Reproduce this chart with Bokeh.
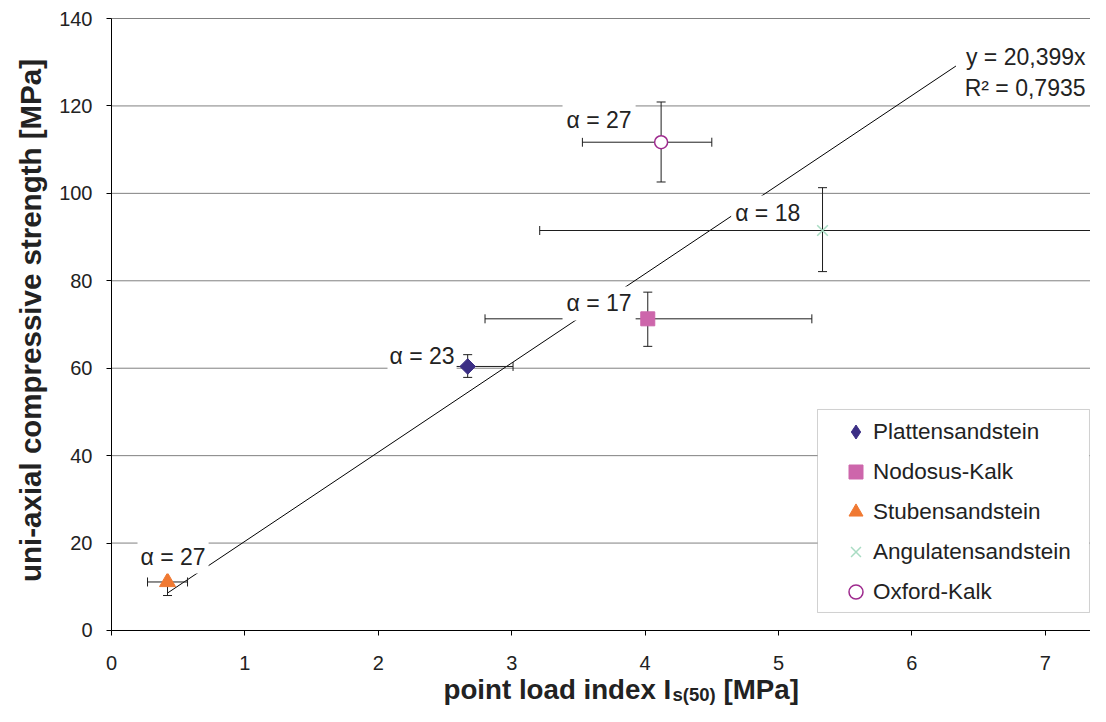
import math
from bokeh.plotting import figure
from bokeh.models import Range1d, FixedTicker, Label, Legend, LegendItem, BoxAnnotation
from bokeh.embed import file_html
from bokeh.resources import INLINE

# ---------------- data ----------------
names = ["Plattensandstein", "Nodosus-Kalk", "Stubensandstein", "Angulatensandstein", "Oxford-Kalk"]
x_vals = [2.67, 4.02, 0.42, 5.33, 4.12]
y_vals = [60.4, 71.3, 11.1, 91.5, 111.7]
x_lo = [2.33, 2.80, 0.27, 3.21, 3.53]
x_hi = [3.01, 5.25, 0.57, 7.46, 4.50]
y_lo = [57.9, 65.0, 8.0, 82.1, 102.6]
y_hi = [63.1, 77.4, 14.5, 101.3, 120.9]
alpha_texts = ["α = 23", "α = 17", "α = 27", "α = 18", "α = 27"]
trend_slope = 20.399
trend_x = [0.42, 6.33]
eq_text = "y = 20,399x"
r2_text = "R² = 0,7935"
x_ticks = [0, 1, 2, 3, 4, 5, 6, 7]
y_ticks = [0, 20, 40, 60, 80, 100, 120, 140]

# ---------------- styles / positions ----------------
colors = ["#3B2E85", "#CD66AB", "#F07932", "#A9DCC3", "#9E2A8E"]
alpha_pos = [(2.069, 62.69), (3.381, 74.81), (0.195, 16.70), (4.645, 95.62), (3.381, 116.68)]
alpha_pad = [2, 4, 3, 4, 4]
FONT = "Liberation Sans"
X_START, X_END = -0.8321, 7.3388
Y_START, Y_END = -17.386, 144.118

# the frame fills the whole canvas; both axes sit at 0
p = figure(width=1090, height=706, output_backend="svg", toolbar_location=None,
           x_range=Range1d(X_START, X_END), y_range=Range1d(Y_START, Y_END),
           min_border_left=0, min_border_right=0, min_border_top=0, min_border_bottom=0)
p.outline_line_color = None
p.background_fill_color = "white"
p.xgrid.visible = False
p.ygrid.visible = False

for ax in (p.xaxis, p.yaxis):
    ax.axis_line_color = "black"
    ax.axis_line_width = 1
    ax.major_tick_line_color = "black"
    ax.major_tick_in = 0
    ax.major_tick_out = 5
    ax.minor_tick_line_color = None
    ax.major_label_text_font = FONT
    ax.major_label_text_font_size = "20px"
    ax.major_label_text_color = "#222222"
p.xaxis.ticker = FixedTicker(ticks=x_ticks)
p.yaxis.ticker = FixedTicker(ticks=y_ticks)
p.xaxis.fixed_location = 0
p.yaxis.fixed_location = 0
p.xaxis.bounds = (0, X_END)
p.yaxis.bounds = (0, 140)
p.xaxis.major_label_standoff = 21
p.yaxis.major_label_standoff = 14

# horizontal grid lines at the y ticks
p.segment(x0=[0] * len(y_ticks), y0=y_ticks, x1=[X_END] * len(y_ticks), y1=y_ticks,
          line_color="#808080", line_width=1, level="underlay")

# trend line
p.line(x=trend_x, y=[trend_slope * v for v in trend_x], line_color="black", line_width=1)

# error bars
err_color = "#1e1e1e"
p.segment(x0=x_lo, y0=y_vals, x1=x_hi, y1=y_vals, line_color=err_color, line_width=1)
p.segment(x0=x_vals, y0=y_lo, x1=x_vals, y1=y_hi, line_color=err_color, line_width=1)
p.scatter(x=x_vals + x_vals, y=y_lo + y_hi, marker="dash", size=9, line_color=err_color, line_width=1)
p.scatter(x=x_lo + x_hi, y=y_vals + y_vals, marker="dash", size=9, angle=math.pi / 2,
          line_color=err_color, line_width=1)

# markers
r0 = p.scatter(x=[x_vals[0]], y=[y_vals[0]], marker="square", angle=math.pi / 4, size=11,
               fill_color=colors[0], line_color=colors[0])
r1 = p.scatter(x=[x_vals[1]], y=[y_vals[1]], marker="square", size=14,
               fill_color=colors[1], line_color=colors[1])
r2 = p.scatter(x=[x_vals[2]], y=[y_vals[2]], marker="triangle", size=16,
               fill_color=colors[2], line_color=colors[2])
r3 = p.scatter(x=[x_vals[3]], y=[y_vals[3]], marker="x", size=15,
               line_color=colors[3], line_width=1.5)
r4 = p.scatter(x=[x_vals[4]], y=[y_vals[4]], marker="circle", size=13,
               fill_color="white", line_color=colors[4], line_width=1.5)
# legend-only diamond (zero size in the plot itself)
rl0 = p.scatter(x=[x_vals[0]], y=[y_vals[0]], marker="diamond", size=0,
                fill_color=colors[0], line_color=colors[0])

# legend frame
box = BoxAnnotation(left=5.2924, right=7.3313, bottom=4.118, top=50.556,
                    fill_color="white", fill_alpha=1.0, line_color="#666666", line_width=1)
p.add_layout(box)

legend = Legend(items=[LegendItem(label=names[0], renderers=[rl0]),
                       LegendItem(label=names[1], renderers=[r1]),
                       LegendItem(label=names[2], renderers=[r2]),
                       LegendItem(label=names[3], renderers=[r3]),
                       LegendItem(label=names[4], renderers=[r4])],
                location=(835, 94), padding=3, spacing=5,
                glyph_width=35, glyph_height=35, label_height=35, label_standoff=-12,
                label_text_font=FONT, label_text_font_size="22.5px", label_text_color="#222222",
                border_line_alpha=0, background_fill_alpha=0, margin=0)
p.add_layout(legend)

# alpha labels
for (lx, ly), txt, pad in zip(alpha_pos, alpha_texts, alpha_pad):
    p.add_layout(Label(x=lx, y=ly, text=txt, text_font=FONT, text_font_size="23px",
                       text_color="#222222", text_baseline="alphabetic",
                       background_fill_color="white", padding=pad))

# regression labels
p.add_layout(Label(x=7.324, y=131.1, text=eq_text, text_align="right", text_baseline="alphabetic",
                   text_font=FONT, text_font_size="23px", text_color="#222222",
                   background_fill_color="white", padding=3))
p.add_layout(Label(x=7.324, y=124.2, text=r2_text, text_align="right", text_baseline="alphabetic",
                   text_font=FONT, text_font_size="23px", text_color="#222222",
                   background_fill_color="white", padding=3))

# axis titles
tt = dict(text_font=FONT, text_font_style="bold", text_color="#222222")
p.add_layout(Label(x=-0.607, y=70.92, angle=math.pi / 2, text="uni-axial compressive strength [MPa]",
                   text_align="center", text_baseline="middle", text_font_size="29.5px", **tt))
p.add_layout(Label(x=2.489, y=0, y_offset=-59, text="point load index I", text_font_size="27.7px",
                   text_baseline="alphabetic", **tt))
p.add_layout(Label(x=2.489, y=0, x_offset=229, y_offset=-64, text="s(50)", text_font_size="18.5px",
                   text_baseline="alphabetic", **tt))
p.add_layout(Label(x=2.489, y=0, x_offset=280, y_offset=-59, text="[MPa]", text_font_size="27.7px",
                   text_baseline="alphabetic", **tt))

open("out.html", "w").write(file_html(p, INLINE))
